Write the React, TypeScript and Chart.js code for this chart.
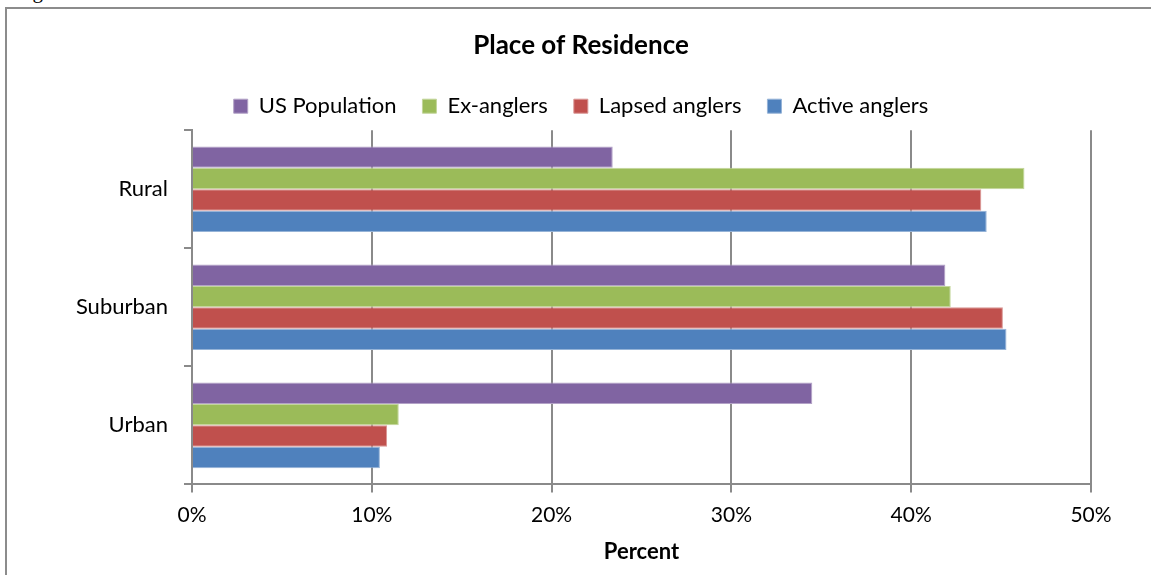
import React, { useEffect, useRef } from 'react';
import { Chart, registerables } from 'chart.js';

Chart.register(...registerables);

const categories = ['Rural', 'Suburban', 'Urban'];
const seriesNames = ['US Population', 'Ex-anglers', 'Lapsed anglers', 'Active anglers'];
const usPopulation = [23.4, 41.9, 34.5];
const exAnglers = [46.3, 42.2, 11.5];
const lapsedAnglers = [43.9, 45.1, 10.85];
const activeAnglers = [44.2, 45.3, 10.45];
const seriesColors = ['#8064A2', '#9BBB59', '#C0504D', '#4F81BD'];
const seriesEdges = ['#b3a2c7', '#c3d69b', '#d99694', '#95b3d7'];
const xMin = 0;
const xMax = 50;
const xStep = 10;
const chartTitle = 'Place of Residence';
const xAxisTitle = 'Percent';

const FONT = 'Lato, "Open Sans", sans-serif';
const GRID = '#8a8a8a';

export default function App() {
  const canvasRef = useRef<HTMLCanvasElement | null>(null);

  useEffect(() => {
    if (!canvasRef.current) return;
    const values = [usPopulation, exAnglers, lapsedAnglers, activeAnglers];
    const chart = new Chart(canvasRef.current, {
      type: 'bar',
      data: {
        labels: categories,
        datasets: seriesNames.map((name, i) => ({
          label: name,
          data: values[i],
          backgroundColor: seriesColors[i],
          borderColor: seriesEdges[i],
          borderWidth: 1,
          categoryPercentage: 0.725,
          barPercentage: 1.0,
        })),
      },
      options: {
        indexAxis: 'y',
        responsive: false,
        animation: false,
        devicePixelRatio: 1,
        layout: { padding: { left: 71, right: 60, top: 0, bottom: 10 } },
        plugins: {
          title: {
            display: true,
            text: chartTitle,
            color: '#000',
            font: { family: FONT, size: 26, weight: 'bold' },
            padding: { top: 30, bottom: 8 },
          },
          legend: {
            display: true,
            position: 'top',
            labels: {
              boxWidth: 14,
              boxHeight: 14,
              color: '#000',
              font: { family: FONT, size: 22 },
              padding: 26,
            },
          },
          tooltip: { enabled: false },
        },
        scales: {
          x: {
            type: 'linear',
            min: xMin,
            max: xMax,
            ticks: {
              stepSize: xStep,
              color: '#000',
              font: { family: FONT, size: 21 },
              padding: 10,
              callback: (v: any) => `${v}%`,
            },
            grid: { color: GRID, lineWidth: 2, tickLength: 8, drawTicks: true },
            border: { color: GRID, width: 2 },
            title: {
              display: true,
              text: xAxisTitle,
              color: '#000',
              font: { family: FONT, size: 22, weight: 'bold' },
              padding: { top: 1, bottom: 0 },
            },
          },
          xSpacer: {
            type: 'linear',
            position: 'top',
            display: true,
            ticks: { display: false },
            grid: { display: false, drawTicks: false },
            border: { display: false },
            afterFit: (scale: any) => {
              scale.height = 3;
            },
          },
          y: {
            type: 'category',
            offset: true,
            ticks: {
              color: '#000',
              font: { family: FONT, size: 22 },
              padding: 16,
            },
            grid: {
              offset: true,
              drawOnChartArea: false,
              drawTicks: true,
              tickLength: 8,
              color: GRID,
              lineWidth: 2,
            },
            border: { color: GRID, width: 2 },
            afterFit: (scale: any) => {
              scale.width = 121;
            },
          },
        },
      },
    });
    return () => chart.destroy();
  }, []);

  return (
    <div style={{ position: 'fixed', left: 0, top: 0, width: 1151, height: 575, overflow: 'hidden', background: '#fff' }}>
      <div
        style={{
          position: 'absolute',
          left: 15,
          top: -19,
          fontFamily: '"Liberation Serif", serif',
          fontSize: 21,
          lineHeight: 1,
          color: '#000',
          whiteSpace: 'nowrap',
        }}
      >
        Figure
      </div>
      <div
        style={{
          position: 'absolute',
          left: 5,
          top: 7,
          width: 1200,
          height: 700,
          borderLeft: '2px solid #8c8c8c',
          borderTop: '2px solid #8c8c8c',
        }}
      />
      <canvas
        ref={canvasRef}
        width={1151}
        height={575}
        style={{ position: 'absolute', left: 0, top: 0, width: 1151, height: 575 }}
      />
    </div>
  );
}
